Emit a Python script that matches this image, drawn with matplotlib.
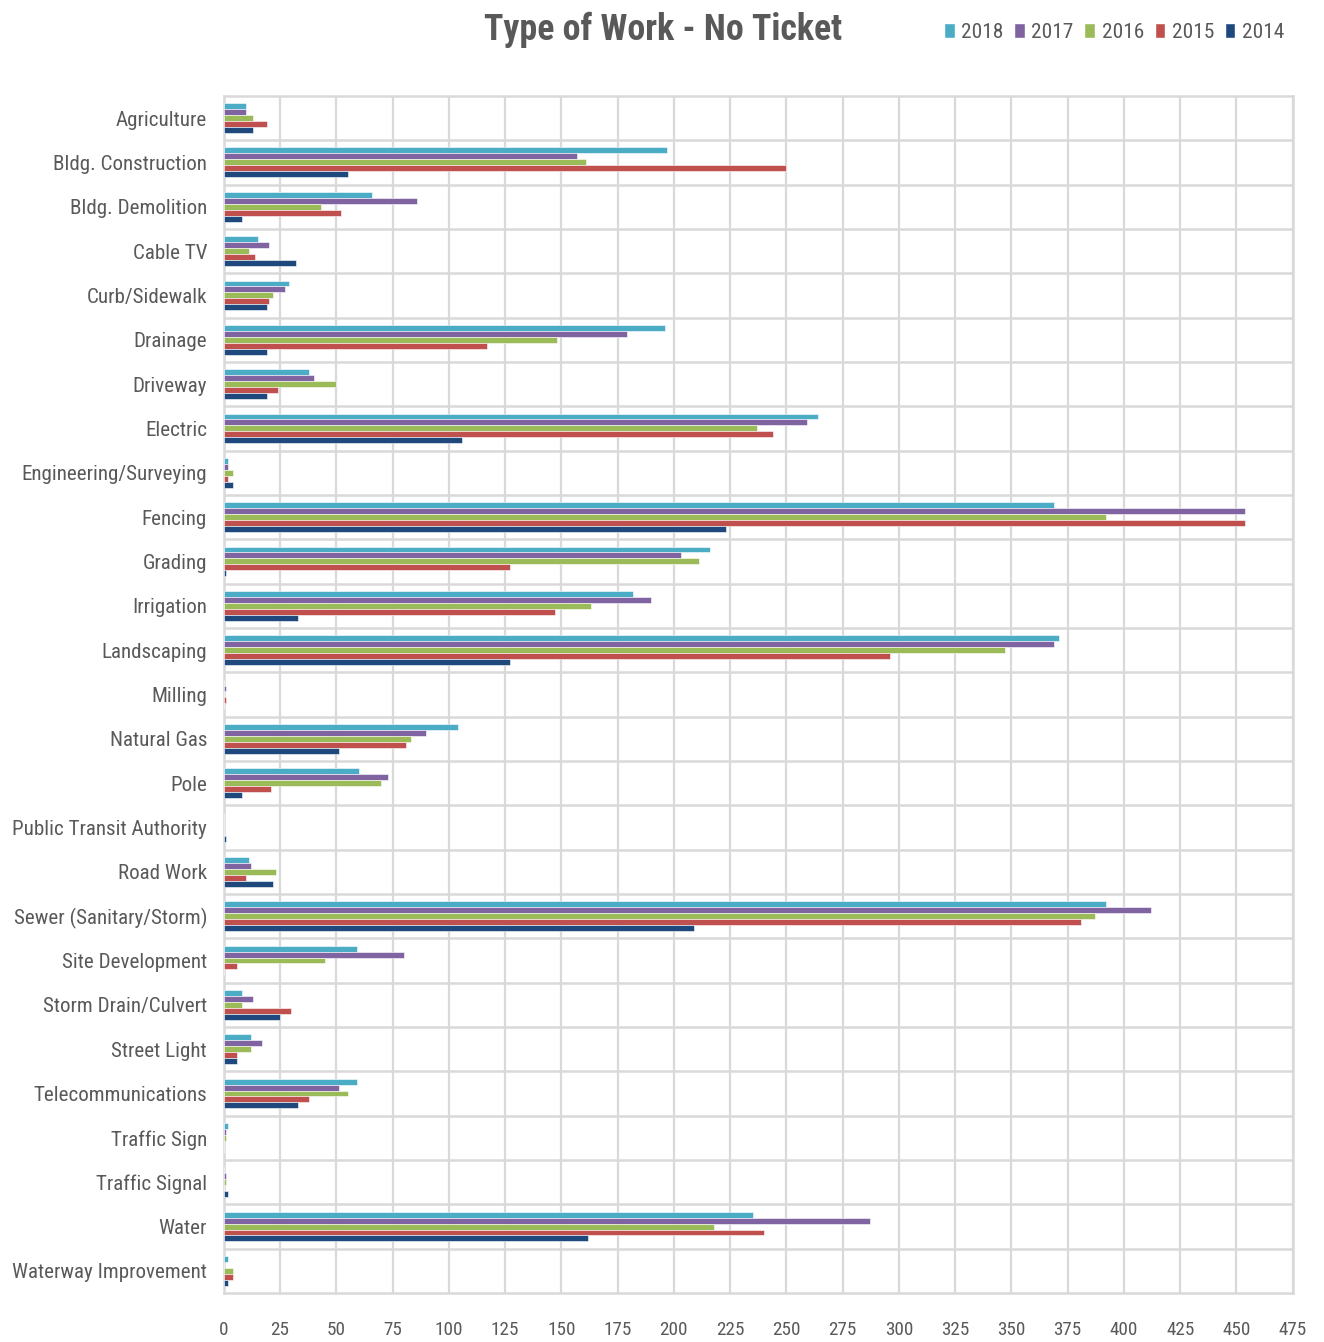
#!/usr/bin/env python3
"""
Horizontal grouped bar chart of no-ticket work types by year.
"""
import numpy as np
import matplotlib.pyplot as plt
from matplotlib.patches import Patch
from matplotlib.font_manager import FontProperties
from matplotlib.textpath import TextPath

categories = [
    "Agriculture", "Bldg. Construction", "Bldg. Demolition", "Cable TV",
    "Curb/Sidewalk", "Drainage", "Driveway", "Electric",
    "Engineering/Surveying", "Fencing", "Grading", "Irrigation",
    "Landscaping", "Milling", "Natural Gas", "Pole",
    "Public Transit Authority", "Road Work", "Sewer (Sanitary/Storm)",
    "Site Development", "Storm Drain/Culvert", "Street Light",
    "Telecommunications", "Traffic Sign", "Traffic Signal", "Water",
    "Waterway Improvement",
]
# counts per year, same order as categories
y2018 = [10, 197, 66, 15, 29, 196, 38, 264, 2, 369, 216, 182, 371, 0, 104, 60,
         0, 11, 392, 59, 8, 12, 59, 2, 0, 235, 2]
y2017 = [10, 157, 86, 20, 27, 179, 40, 259, 2, 454, 203, 190, 369, 1, 90, 73,
         0, 12, 412, 80, 13, 17, 51, 1, 1, 287, 0]
y2016 = [13, 161, 43, 11, 22, 148, 50, 237, 4, 392, 211, 163, 347, 0, 83, 70,
         0, 23, 387, 45, 8, 12, 55, 1, 1, 218, 4]
y2015 = [19, 250, 52, 14, 20, 117, 24, 244, 2, 454, 127, 147, 296, 1, 81, 21,
         0, 10, 381, 6, 30, 6, 38, 0, 0, 240, 4]
y2014 = [13, 55, 8, 32, 19, 19, 19, 106, 4, 223, 1, 33, 127, 0, 51, 8,
         1, 22, 209, 0, 25, 6, 33, 0, 2, 162, 2]

years = ["2018", "2017", "2016", "2015", "2014"]
series = [y2018, y2017, y2016, y2015, y2014]
colors = ["#4BACC6", "#8064A2", "#9BBB59", "#C0504D", "#1F497D"]

FONT = ["Roboto Condensed", "Liberation Sans Narrow", "DejaVu Sans"]
TEXT_COLOR = "#595959"
GRID_COLOR = "#D9D9D9"
DPI = 100

plt.rcParams["font.family"] = FONT
plt.rcParams["font.stretch"] = "condensed"


def fit_size(text, target_px, weight="normal", ref=20.0):
    """Font size (pt) that makes `text` about target_px wide."""
    fp = FontProperties(family=FONT, size=ref, weight=weight, stretch="condensed")
    w_pt = TextPath((0, 0), text, prop=fp).get_extents().width
    return ref * target_px / (w_pt * DPI / 72.0)


label_size = min(fit_size("Waterway Improvement", 194), 19)
tick_size = min(fit_size("475", 27), 18)
legend_size = fit_size("2018", 40)
title_size = fit_size("Type of Work - No Ticket", 357, weight="bold")

fig = plt.figure(figsize=(13.24, 13.42), dpi=DPI)
ax = fig.add_axes([0.169, 0.0365, 0.8074, 0.892])

pos = np.arange(len(categories))
bar_h = 0.135
for i, (vals, color, year) in enumerate(zip(series, colors, years)):
    ax.barh(pos + (i - 2) * bar_h, vals, height=bar_h, color=color,
            edgecolor="white", linewidth=0.4, label=year, zorder=3)

ax.set_xlim(0, 475)
ax.set_ylim(len(categories) - 0.5, -0.5)
ax.set_xticks(np.arange(0, 476, 25))
ax.set_yticks(pos)
ax.set_yticklabels(categories)

# vertical grid at every tick, horizontal separators between categories
ax.set_axisbelow(True)
ax.grid(axis="x", color=GRID_COLOR, linewidth=1.6, zorder=0)
for b in np.arange(0.5, len(categories) - 1, 1.0):
    ax.axhline(b, color=GRID_COLOR, linewidth=1.8, zorder=0)

for spine in ax.spines.values():
    spine.set_color(GRID_COLOR)
    spine.set_linewidth(1.8)

ax.tick_params(axis="y", length=0, pad=12, labelsize=label_size, labelcolor=TEXT_COLOR)
ax.tick_params(axis="x", length=0, pad=20, labelsize=tick_size, labelcolor=TEXT_COLOR)

fig.text(0.5008, 0.9776, "Type of Work - No Ticket", ha="center", va="center",
         fontsize=title_size, fontweight="bold", color=TEXT_COLOR)

handles = [Patch(facecolor=c, edgecolor="white", label=y) for c, y in zip(colors, years)]
fig.legend(handles=handles, loc="center right", bbox_to_anchor=(0.978, 0.976),
           ncol=5, frameon=False, fontsize=legend_size, handlelength=0.5,
           handleheight=0.7, handletextpad=0.3, columnspacing=0.5,
           borderpad=0, labelcolor=TEXT_COLOR)

fig.savefig("out.png", dpi=DPI)
plt.close(fig)
